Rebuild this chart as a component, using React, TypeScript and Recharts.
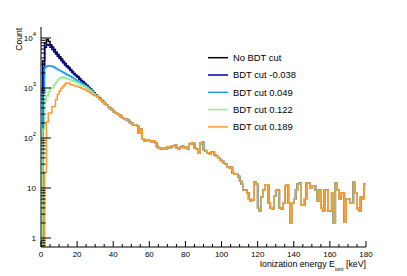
import React from "react";
import { LineChart, Line, XAxis, YAxis, Legend } from "recharts";

// Ionization energy histograms, 1 keV bins from 0 to 180 keV.
// Below ~35 keV each BDT cut differs; above that all curves coincide.
const headNoCut = [
  0.5, 3500, 7900, 9300, 8500, 7300, 6600, 5900, 5200, 4700,
  4200, 3800, 3400, 3100, 2800, 2600, 2350, 2150, 1950, 1800,
  1700, 1550, 1420, 1320, 1230, 1130, 1040, 960, 880, 800,
  730, 680, 630, 580, 540,
];
const headCutM038 = [
  0.5, 2500, 6500, 7400, 7200, 6500, 5900, 5300, 4800, 4300,
  3900, 3500, 3200, 2900, 2650, 2450, 2250, 2050, 1900, 1750,
  1650, 1500, 1380, 1290, 1200, 1100, 1020, 940, 860, 790,
  720, 670, 620, 575, 535,
];
const headCut049 = [
  0.5, 800, 2600, 2750, 2800, 2750, 2700, 2600, 2450, 2350,
  2250, 2150, 2050, 1950, 1850, 1780, 1700, 1620, 1530, 1450,
  1400, 1320, 1250, 1190, 1140, 1060, 990, 920, 850, 780,
  715, 665, 615, 572, 532,
];
const headCut122 = [
  0.5, 150, 550, 700, 850, 1000, 1000, 1150, 1300, 1450,
  1550, 1620, 1660, 1600, 1550, 1500, 1450, 1400, 1350, 1300,
  1260, 1200, 1150, 1100, 1060, 1000, 940, 880, 830, 770,
  710, 660, 610, 570, 530,
];
const headCut189 = [
  0.5, 0.5, 21, 210, 316, 316, 420, 420, 585, 740,
  870, 1000, 1100, 1200, 1260, 1260, 1170, 1150, 1120, 1100,
  1070, 1040, 1000, 960, 930, 880, 840, 800, 760, 720,
  690, 660, 610, 570, 530,
];
// bins 35..179
const tail = [
  490, 450, 420, 390, 370, 340, 320, 300, 285, 270,
  255, 240, 235, 225, 205, 195, 185, 180, 175, 125,
  150, 95, 88, 90, 92, 88, 85, 88, 80, 68,
  63, 62, 64, 60, 62, 66, 64, 68, 70, 72,
  64, 62, 66, 68, 63, 66, 62, 75, 80, 78,
  64, 60, 50, 78, 82, 58, 55, 50, 48, 52,
  52, 46, 44, 40, 36, 35, 32, 30, 26, 25,
  26, 20, 19, 19, 17, 14, 12, 9, 9, 8,
  6, 5.5, 5.8, 13, 12, 4, 3.5, 6.5, 9, 11.5,
  11.5, 5, 4, 3.9, 7, 9, 9, 4, 3.9, 5,
  11, 11.5, 5, 2, 5, 6, 9, 12, 12.4, 4.5,
  4.5, 6, 12.4, 12.4, 10, 11, 11, 9, 5.5, 9,
  4, 3.5, 9, 9, 3.5, 3.5, 8, 2, 12.4, 9,
  6, 8, 8, 2.1, 6, 6, 5, 5, 13.4, 8,
  3.9, 3.5, 6.5, 6, 12,
];

const series = [
  { key: "noCut", name: "No BDT cut", color: "#000000", head: headNoCut },
  { key: "cutM038", name: "BDT cut -0.038", color: "#000099", head: headCutM038 },
  { key: "cut049", name: "BDT cut 0.049", color: "#1f9bea", head: headCut049 },
  { key: "cut122", name: "BDT cut 0.122", color: "#90ee90", head: headCut122 },
  { key: "cut189", name: "BDT cut 0.189", color: "#ff9933", head: headCut189 },
];
const seriesOrder = series.map((s) => s.name);

const xTicks = [
  0, 5, 10, 15, 20, 25, 30, 35, 40, 45, 50, 55, 60, 65, 70, 75, 80, 85, 90,
  95, 100, 105, 110, 115, 120, 125, 130, 135, 140, 145, 150, 155, 160, 165,
  170, 175, 180,
];
const yTicks = [
  0.7, 0.8, 0.9,
  1, 2, 3, 4, 5, 6, 7, 8, 9,
  10, 20, 30, 40, 50, 60, 70, 80, 90,
  100, 200, 300, 400, 500, 600, 700, 800, 900,
  1000, 2000, 3000, 4000, 5000, 6000, 7000, 8000, 9000,
  10000,
];

const nBins = headNoCut.length + tail.length;
const rows: Record<string, number>[] = [];
for (let i = 0; i <= nBins; i++) {
  const b = Math.min(i, nBins - 1);
  const row: Record<string, number> = { e: i };
  series.forEach((s) => {
    row[s.key] = b < s.head.length ? s.head[b] : tail[b - s.head.length];
  });
  rows.push(row);
}

const W = 407;
const H = 276;
const LEFT = 41;
const RIGHT = 41;
const TOP = 27;
const XAXIS_H = 29;
const BOTTOM = H - XAXIS_H;
const FONT = "'Liberation Sans', Arial, Helvetica, sans-serif";

const XTick = (props: any) => {
  const { x, payload } = props;
  const v = payload.value;
  const major = v % 20 === 0;
  return (
    <g>
      <line x1={x} x2={x} y1={BOTTOM} y2={BOTTOM - (major ? 6 : 3)} stroke="#000" />
      {major && (
        <text x={x} y={257} textAnchor="middle" fontSize={8} fontFamily={FONT} fill="#000">
          {v}
        </text>
      )}
    </g>
  );
};

const YTick = (props: any) => {
  const { y, payload } = props;
  const v = payload.value;
  const lg = Math.log10(v);
  const major = Math.abs(lg - Math.round(lg)) < 1e-6;
  const n = Math.round(lg);
  return (
    <g>
      <line x1={LEFT} x2={LEFT + (major ? 10 : 4.5)} y1={y} y2={y} stroke="#000" />
      {major && (
        <text x={36} y={y + 3} textAnchor="end" fontSize={8} fontFamily={FONT} fill="#000">
          {n === 0 ? "1" : n === 1 ? "10" : (
            <>
              <tspan>10</tspan>
              <tspan dy={-5} fontSize={6}>{n}</tspan>
            </>
          )}
        </text>
      )}
    </g>
  );
};

const LegendBox = (props: any) => {
  const items = [...(props.payload || [])].sort(
    (a: any, b: any) => seriesOrder.indexOf(a.value) - seriesOrder.indexOf(b.value)
  );
  return (
    <svg width={140} height={95}>
      {items.map((it: any, i: number) => {
        const y = 12.7 + 17.3 * i;
        return (
          <g key={i}>
            <line x1={8} x2={28} y1={y} y2={y} stroke={it.color} strokeWidth={1.5} />
            <text x={33} y={y + 3.4} fontSize={9.4} fontFamily={FONT} fill="#000">
              {it.value}
            </text>
          </g>
        );
      })}
    </svg>
  );
};

export default function App() {
  return (
    <div style={{ position: "absolute", left: 0, top: 0, width: W, height: H, background: "#fff" }}>
      <LineChart
        width={W}
        height={H}
        data={rows}
        margin={{ top: TOP, right: RIGHT, bottom: 0, left: 0 }}
      >
        <XAxis
          dataKey="e"
          type="number"
          domain={[0, 180]}
          ticks={xTicks}
          interval={0}
          tick={<XTick />}
          tickLine={false}
          axisLine={{ stroke: "#000" }}
          height={XAXIS_H}
          allowDataOverflow
        />
        <XAxis
          xAxisId="top"
          orientation="top"
          type="number"
          domain={[0, 180]}
          tick={false}
          tickLine={false}
          axisLine={{ stroke: "#8a8a8a" }}
          height={0}
        />
        <YAxis
          type="number"
          scale="log"
          domain={[0.661, 16600]}
          ticks={yTicks}
          interval={0}
          tick={<YTick />}
          tickLine={false}
          axisLine={{ stroke: "#000" }}
          width={LEFT}
          allowDataOverflow
        />
        <YAxis
          yAxisId="right"
          orientation="right"
          type="number"
          domain={[0, 1]}
          tick={false}
          tickLine={false}
          axisLine={{ stroke: "#8a8a8a" }}
          width={0}
        />
        {series.map((s) => (
          <Line
            key={s.key}
            type="stepAfter"
            dataKey={s.key}
            name={s.name}
            stroke={s.color}
            strokeWidth={1.5}
            dot={false}
            activeDot={false}
            isAnimationActive={false}
          />
        ))}
        <Legend
          layout="vertical"
          align="center"
          verticalAlign="middle"
          content={<LegendBox />}
          wrapperStyle={{ left: 200, top: 45, width: 140, height: 95 }}
        />
        <text
          x={21.5}
          y={28}
          transform="rotate(-90, 21.5, 28)"
          textAnchor="end"
          fontSize={8.5}
          fontFamily={FONT}
          fill="#000"
        >
          Count
        </text>
        <text x={366} y={267} textAnchor="end" fontSize={8.8} fontFamily={FONT} fill="#000">
          Ionization energy E
          <tspan dy={3.5} fontSize={5.5}>ioni</tspan>
          <tspan dy={-3.5} fontSize={8.8}> [keV]</tspan>
        </text>
      </LineChart>
    </div>
  );
}
